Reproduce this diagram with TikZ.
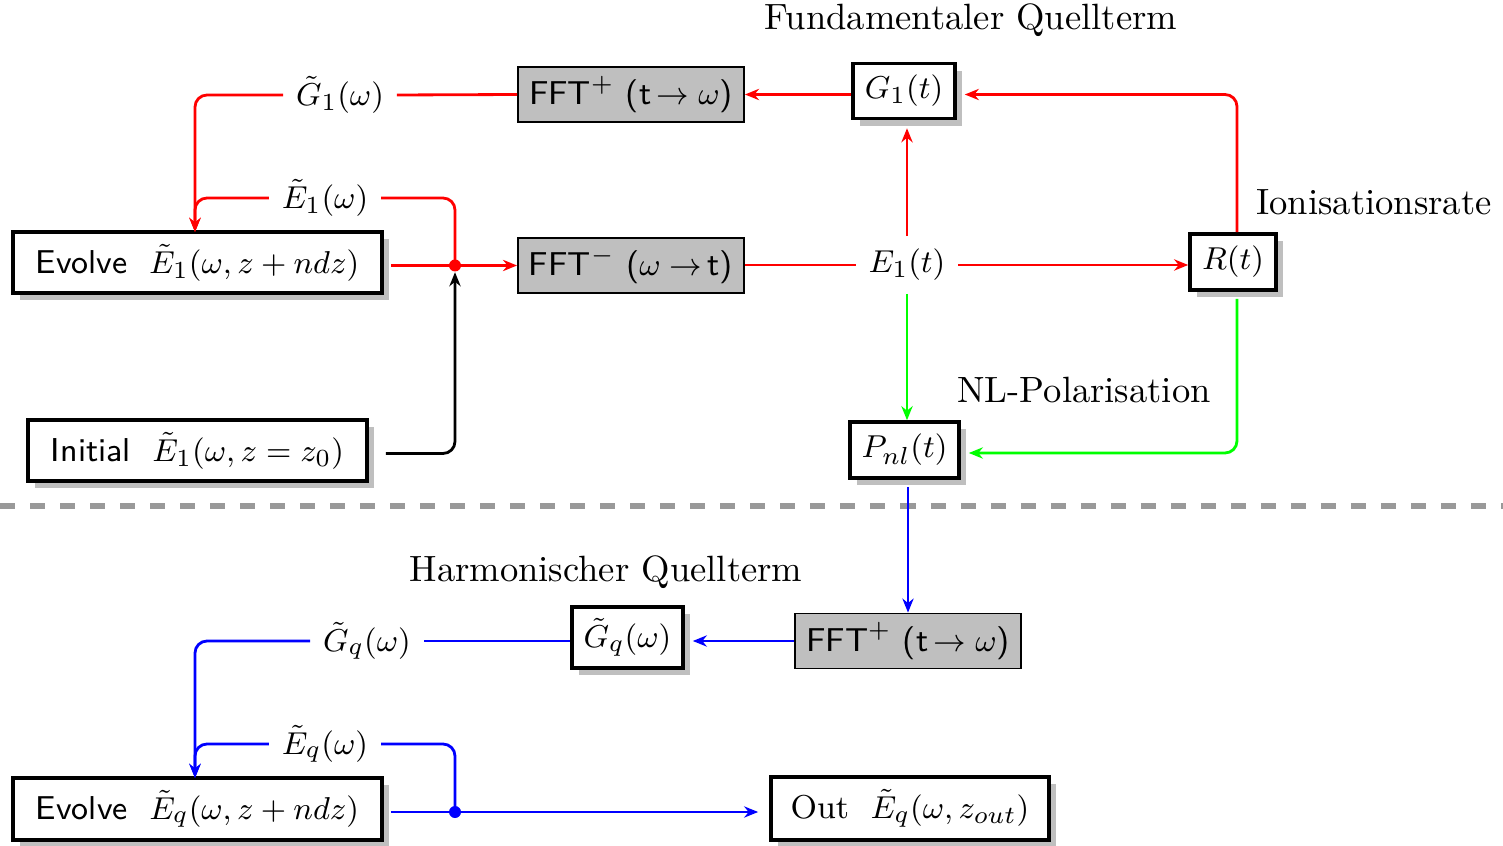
\documentclass[tikz,border=0pt]{standalone}
\usepackage{amsmath}
\usetikzlibrary{arrows.meta,shadows,calc}
\begin{document}
\begin{tikzpicture}[x=0.01cm,y=-0.01cm,
  font=\fontsize{9.4}{11.5}\selectfont,
  box/.style={draw=black,line width=1pt,fill=white,inner sep=0pt,
    drop shadow={shadow xshift=2pt,shadow yshift=-2pt,fill=gray!50,opacity=1}},
  fftbox/.style={draw=black,line width=0.5pt,fill=gray!50,inner sep=0pt,
    minimum width=2.26cm,minimum height=0.55cm},
  lab/.style={inner sep=3.5pt},
  conn/.style={line width=0.8pt,rounded corners=0.12cm},
  arr/.style={conn,-{Stealth[length=4pt,width=3.2pt,inset=1.3pt]}},
  dotc/.style={circle,fill,inner sep=0pt,minimum size=0.12cm},
  title/.style={font=\fontsize{10.4}{12.5}\selectfont,inner sep=0pt}
]
\useasboundingbox (0,0) rectangle (1503,846);

% separator
\draw[gray!80,line width=1.8pt,dash pattern=on 0.15cm off 0.15cm] (0,506) -- (1503,506);

% titles
\node[title] (t1) at (971,20) {Fundamentaler Quellterm};
\node[title] (t2) at (1374,202) {Ionisationsrate};
\node[title] (t3) at (1084,390) {NL-Polarisation};
\node[title] (t4) at (606,572) {Harmonischer Quellterm};

% boxes
\node[box,minimum width=3.69cm,minimum height=0.61cm] (ev1) at (197.5,262.5)
  {\textsf{Evolve}\hspace{0.65em}$\tilde E_1(\omega,z+ndz)$};
\node[fftbox] (fftA) at (631,94.5) {\textsf{FFT}$^{+}$\ \textsf{(t}$\,\to\omega$\textsf{)}};
\node[box,minimum width=1.02cm,minimum height=0.55cm] (G1) at (904,91) {$G_1(t)$};
\node[fftbox] (fftB) at (631,265.5) {\textsf{FFT}$^{-}$\ \textsf{(}$\omega\to\,$\textsf{t)}};
\node[lab] (E1t) at (907,265) {$E_1(t)$};
\node[box,minimum width=0.86cm,minimum height=0.56cm] (R) at (1233,262) {$R(t)$};
\node[box,minimum width=1.09cm,minimum height=0.56cm] (Pnl) at (904.5,450) {$P_{nl}(t)$};
\node[box,minimum width=3.39cm,minimum height=0.61cm] (init) at (197.5,450.5)
  {\textsf{Initial}\hspace{0.65em}$\tilde E_1(\omega,z=z_0)$};
\node[fftbox] (fftC) at (908,641) {\textsf{FFT}$^{+}$\ \textsf{(t}$\,\to\omega$\textsf{)}};
\node[box,minimum width=1.11cm,minimum height=0.61cm] (Gq) at (627.5,637.5) {$\tilde G_q(\omega)$};
\node[box,minimum width=3.69cm,minimum height=0.62cm] (evq) at (197.5,809)
  {\textsf{Evolve}\hspace{0.65em}$\tilde E_q(\omega,z+ndz)$};
\node[box,minimum width=2.78cm,minimum height=0.63cm] (out) at (910,808.5)
  {Out\hspace{0.65em}$\tilde E_q(\omega,z_{out})$};

% labels on lines
\node[lab] (G1l) at (340,95) {$\tilde G_1(\omega)$};
\node[lab] (E1l) at (325,198) {$\tilde E_1(\omega)$};
\node[lab] (Gql) at (367,641) {$\tilde G_q(\omega)$};
\node[lab] (Eql) at (325,744) {$\tilde E_q(\omega)$};

\node[dotc,red] (d1) at (455,265.5) {};
\node[dotc,blue] (dq) at (455,812) {};
\coordinate (ev1top) at (195,232);
\coordinate (evqtop) at (195,778);

% red part
\draw[arr,red] (G1.west |- fftA.east) -- (fftA.east);
\draw[conn,red] (fftA.west) -- (G1l.east);
\draw[arr,red] (G1l.west) -| (ev1top);
\draw[conn,red] (d1.center) |- (E1l.east);
\draw[arr,red] (E1l.west) -| (ev1top);
\draw[conn,red] ([xshift=0.07cm]ev1.east |- d1) -- (d1.center);
\draw[arr,red] (d1.center) -- (d1 -| fftB.west);
\draw[arr,black] ([xshift=0.17cm,yshift=-0.03cm]init.east) -| (d1.south);
\draw[conn,red] (fftB.east |- E1t) -- (E1t.west);
\draw[arr,red] (E1t.east) -- (E1t.east -| R.west);
\draw[arr,red,shorten >=0.08cm] (E1t.north) -- (E1t.north |- G1.south);
\draw[arr,red,shorten >=0.08cm] ([xshift=0.04cm]R.north) |- (G1.east |- fftA.east);
% green part
\draw[arr,green] (E1t.south) -- (E1t.south |- Pnl.north);
\draw[arr,green,shorten >=0.08cm] ([xshift=0.04cm,yshift=-0.07cm]R.south) |- ([yshift=-0.03cm]Pnl.east);
% blue part
\draw[arr,blue] ([yshift=-0.07cm]Pnl.south -| fftC.north) -- (fftC.north);
\draw[arr,blue,shorten >=0.08cm] (fftC.west) -- (fftC.west -| Gq.east);
\draw[conn,blue] (fftC.west -| Gq.west) -- (Gql.east);
\draw[arr,blue] (Gql.west) -| (evqtop);
\draw[conn,blue] (dq.center) |- (Eql.east);
\draw[arr,blue] (Eql.west) -| (evqtop);
\draw[conn,blue] ([xshift=0.07cm]evq.east |- dq) -- (dq.center);
\draw[arr,blue,shorten >=0.11cm] (dq.center) -- (dq -| out.west);
\end{tikzpicture}
\end{document}
